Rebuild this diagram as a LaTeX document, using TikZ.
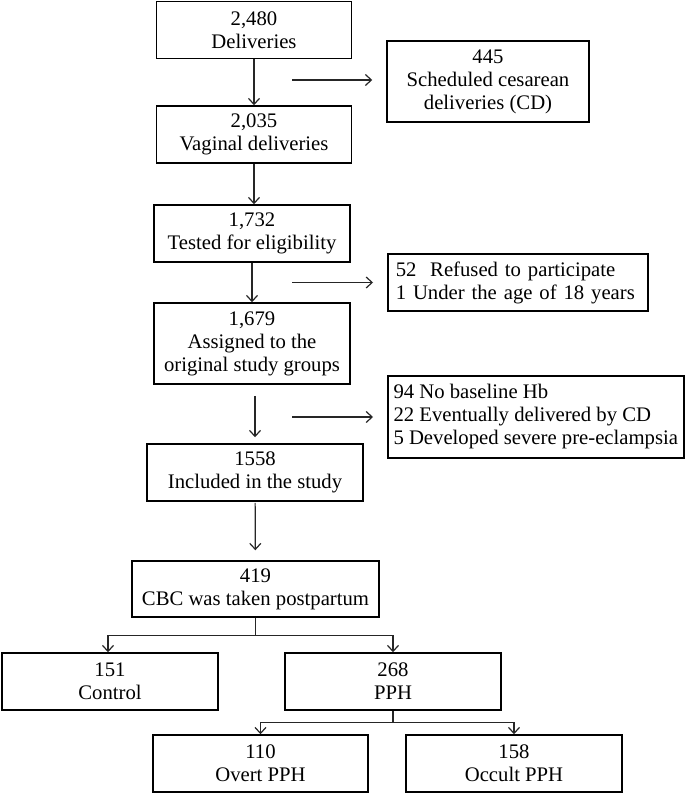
\documentclass[tikz,border=0pt]{standalone}
\usepackage{fontspec}
\setmainfont{Liberation Serif}
\usepackage{xcolor}
\usetikzlibrary{arrows.meta}

\tikzset{
  box/.style={draw, line width=1.5pt, align=center, inner sep=0pt,
    minimum width=196pt, minimum height=57pt,
    font=\fontsize{20.7}{23}\selectfont},
  sidebox/.style={box, align=left, anchor=west, inner xsep=8pt},
  arr/.style={draw=black!85, line width=1.2pt, -{Straight Barb[length=6pt,width=11pt]}},
  line/.style={draw=black!85, line width=1.2pt}
}

\begin{document}
\begin{tikzpicture}[x=1pt, y=-1pt]
        \useasboundingbox (0,0) rectangle (685,794);

        % main column
        \node[box, minimum width=195pt] (deliv) at (254,30) {2,480\\Deliveries};
        \node[box, minimum width=195pt] (vaginal) at (254,134.5) {2,035\\Vaginal deliveries};
        \node[box] (tested) at (252,233.5) {1,732\\Tested for eligibility};
        \node[box, minimum height=81pt] (assigned) at (252,343.5) {1,679\\Assigned to the\\original study groups};
        \node[box, minimum width=216pt] (included) at (255,472.5) {1558\\Included in the study};
        \node[box, minimum width=247pt, minimum height=56pt] (cbc) at (255.5,589) {419\\CBC was taken postpartum};

        % exclusions
        \node[box, minimum width=202pt, minimum height=81pt] (cesarean) at (488,81.5) {445\\Scheduled cesarean\\deliveries (CD)};
        \node[sidebox, text width=244pt, minimum width=260pt] (refused) at (387,282.5) {52\ \ Refused to participate\\1 Under the age of 18 years};
        \node[box, align=left, anchor=west, minimum width=296pt, minimum height=82pt] (excluded) at (387,417) {94 No baseline Hb\\22 Eventually delivered by CD\\5 Developed severe pre-eclampsia};

        % groups
        \node[box, minimum width=216pt] (control) at (110,681.5) {151\\Control};
        \node[box, minimum width=216pt] (pph) at (393,681.5) {268\\PPH};
        \node[box, minimum width=215pt] (overt) at (260.5,763.5) {110\\Overt PPH};
        \node[box, minimum width=216pt] (occult) at (514,763.5) {158\\Occult PPH};

        \coordinate (s1) at (292,80);
        \coordinate (s2) at (292,282.5);
        \coordinate (s3) at (292,417);

        \draw[arr] (deliv) -- (vaginal);
        \draw[arr] (vaginal) -- (vaginal |- tested.north);
        \draw[arr] (tested) -- (tested |- assigned.north);
        \draw[arr, shorten <=11pt, shorten >=6pt] (assigned.south -| included) -- (included);
        \draw[arr, shorten <=1pt, shorten >=10pt] (included) -- (cbc);

        \draw[arr, shorten >=14pt] (s1) -- (s1 -| cesarean.west);
        \draw[arr, shorten >=14pt] (s2) -- (refused.west);
        \draw[arr, shorten >=14pt] (s3) -- (excluded.west);

        \draw[line] (cbc.south) -- ++(0,18) coordinate (b1);
        \draw[arr] (b1) -| (control.north -| 108,0);
        \draw[arr] (b1) -| (pph.north);

        \draw[line] (pph.south) -- ++(0,12) coordinate (b2);
        \draw[arr] (b2) -| (overt.north);
        \draw[arr] (b2) -| (occult.north);
    \end{tikzpicture}
\end{document}
